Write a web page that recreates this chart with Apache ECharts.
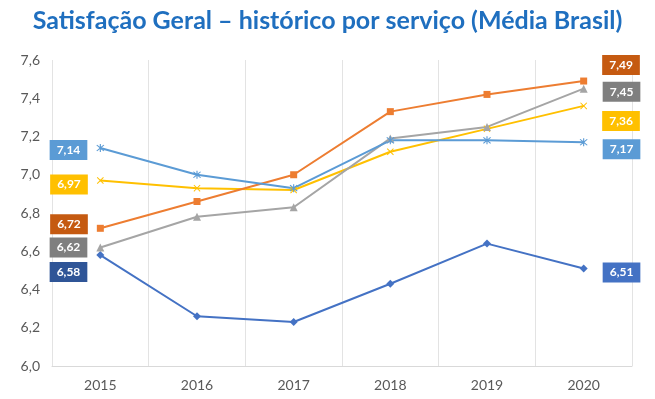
<!DOCTYPE html>
<html>
<head>
<meta charset="utf-8">
<script src="https://cdn.jsdelivr.net/npm/echarts@6/dist/echarts.min.js"></script>
<style>html,body{margin:0;padding:0;background:#fff}#c{width:655px;height:399px}</style>
</head>
<body>
<div id="c"></div>
<script>
const years = ['2015','2016','2017','2018','2019','2020'];
const serieAzulEscuro = [6.58, 6.26, 6.23, 6.43, 6.64, 6.51];
const serieLaranja    = [6.72, 6.86, 7.00, 7.33, 7.42, 7.49];
const serieCinza      = [6.62, 6.78, 6.83, 7.19, 7.25, 7.45];
const serieAmarela    = [6.97, 6.93, 6.92, 7.12, 7.24, 7.36];
const serieAzulClaro  = [7.14, 7.00, 6.93, 7.18, 7.18, 7.17];
const yTicks = { min: 6.0, max: 7.6, interval: 0.2 };

const fmt = v => v.toFixed(2).replace('.', ',');
const X_PATH = 'path://M1,0L5,4L9,0L10,1L6,5L10,9L9,10L5,6L1,10L0,9L4,5L0,1Z';
const STAR_PATH = 'path://M1,0L5,4L9,0L10,1L6,5L10,9L9,10L5,6L1,10L0,9L4,5L0,1Z M4.3,-1L5.7,-1L5.7,11L4.3,11Z';

function mk(name, values, color, symbol, symbolSize, leftBg, leftDy, rightBg, rightDy) {
  const baseLabel = {
    show: true, color: '#fff', fontWeight: 'bold', fontSize: 12,
    fontFamily: 'Lato, "Noto Sans", sans-serif',
    padding: [4, 7, 4, 7],
    formatter: p => fmt(p.value)
  };
  const data = values.map((v, i) => {
    if (i === 0) return { value: v, label: Object.assign({}, baseLabel, { position: 'left', distance: 9, backgroundColor: leftBg, offset: [0, leftDy] }) };
    if (i === values.length - 1) return { value: v, label: Object.assign({}, baseLabel, { position: 'right', distance: 15, backgroundColor: rightBg, offset: [0, rightDy] }) };
    return v;
  });
  return {
    name, type: 'line', data, symbol, symbolSize,
    showAllSymbol: true,
    lineStyle: { color, width: 2 },
    itemStyle: { color },
    label: { show: false },
    emphasis: { disabled: true },
    animation: false
  };
}

const chart = echarts.init(document.getElementById('c'));
chart.setOption({
  animation: false,
  title: {
    text: 'Satisfação Geral – histórico por serviço (Média Brasil)',
    left: 'center', top: 3,
    textStyle: { color: '#1F6FBF', fontSize: 25, fontWeight: 'bold', fontFamily: 'Lato, "Noto Sans", sans-serif' }
  },
  grid: { left: 52, right: 23, top: 60, bottom: 33, containLabel: false },
  xAxis: {
    type: 'category', data: years, boundaryGap: true,
    axisLine: { show: true, lineStyle: { color: '#D9D9D9', width: 1 } },
    axisTick: { show: false },
    splitLine: { show: true, lineStyle: { color: '#E3E3E3', width: 1 } },
    axisLabel: { color: '#595959', fontSize: 14, margin: 12, fontFamily: 'Lato, "Noto Sans", sans-serif' }
  },
  yAxis: {
    type: 'value', min: yTicks.min, max: yTicks.max, interval: yTicks.interval,
    axisLine: { show: false }, axisTick: { show: false },
    splitLine: { show: false },
    axisLabel: { color: '#595959', fontSize: 14, margin: 12, fontFamily: 'Lato, "Noto Sans", sans-serif',
      formatter: v => v.toFixed(1).replace('.', ',') }
  },
  series: [
    mk('Série 1', serieAzulEscuro, '#4472C4', 'diamond', 8, '#2F5597', 17, '#4472C4', 4),
    mk('Série 4', serieAmarela, '#FFC000', X_PATH, 7, '#FFC000', 4, '#FFC000', 15),
    mk('Série 3', serieCinza, '#A5A5A5', 'triangle', 8, '#7F7F7F', 0, '#7F7F7F', 3),
    mk('Série 2', serieLaranja, '#ED7D31', 'rect', 7, '#C55A11', -4, '#C55A11', -16),
    mk('Série 5', serieAzulClaro, '#5B9BD5', STAR_PATH, 8, '#5B9BD5', 2, '#5B9BD5', 7)
  ]
});
</script>
</body>
</html>
